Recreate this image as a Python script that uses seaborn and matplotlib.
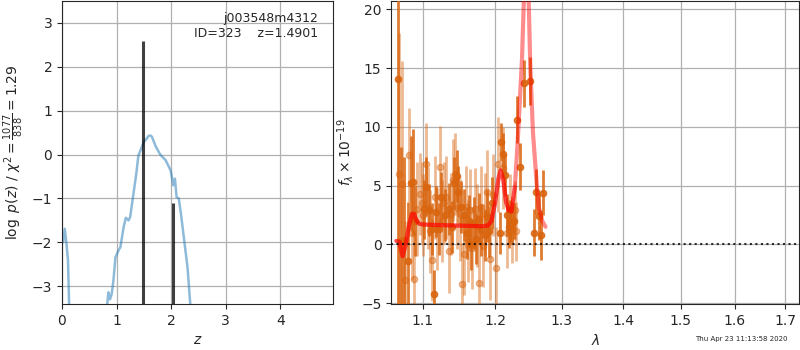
import numpy as np
import pandas as pd
import matplotlib
matplotlib.use("Agg")
import matplotlib.pyplot as plt
from matplotlib.ticker import FixedLocator, FixedFormatter, NullLocator, NullFormatter
import seaborn as sns

# ---------------- data ----------------
# p(z) curve (log p), values below the axis limit are clipped
pz_z = [0.0, 0.02, 0.05, 0.08, 0.11, 0.13, 0.16, 0.4, 0.7, 0.81, 0.83, 0.85, 0.88, 0.91, 0.94, 0.98,
        1.03, 1.07, 1.13, 1.17, 1.22, 1.25, 1.31, 1.36, 1.40, 1.44, 1.50, 1.55, 1.59, 1.63, 1.65,
        1.72, 1.80, 1.90, 1.99, 2.02, 2.04, 2.07, 2.10, 2.14, 2.18, 2.24, 2.30, 2.35, 2.45, 2.8]
pz_logp = [-1.9, -2.0, -1.69, -2.0, -2.42, -3.4, -4.2, -8.0, -6.0, -3.8, -3.4, -3.14, -3.3, -3.18, -2.9, -2.34,
           -2.2, -2.11, -1.65, -1.44, -1.5, -1.42, -0.89, -0.45, -0.02, 0.1, 0.29, 0.36, 0.43, 0.43, 0.40,
           0.18, 0.0, -0.13, -0.36, -0.55, -0.70, -0.55, -0.97, -1.0, -1.35, -1.96, -2.57, -3.4, -4.5, -8.0]
zpeaks = [1.49, 2.035]
zpeak_h = [2.6, -1.1]

# spectrum, beam A (dark)
a_wave = [1.068, 1.072, 1.076, 1.081, 1.085, 1.087, 1.090, 1.102, 1.105, 1.108, 1.112, 1.115, 1.118,
          1.122, 1.125, 1.130, 1.135, 1.140, 1.143, 1.146, 1.148, 1.152, 1.156, 1.160, 1.163, 1.166,
          1.170, 1.173, 1.177, 1.180, 1.185, 1.188, 1.192, 1.196, 1.2075, 1.2087, 1.211, 1.215, 1.218,
          1.220, 1.222, 1.225, 1.228, 1.232, 1.236, 1.243, 1.252, 1.2575, 1.2605, 1.2645, 1.268, 1.2715]
a_flux = [14.1, 0.3, 0.4, -1.4, 5.2, 5.3, 2.0, 3.0, 4.9, 2.9, 1.3, -4.2, 2.8,
          1.3, 4.0, 2.5, 3.0, 1.5, 5.2, 5.8, 4.5, 3.2, 2.5, 1.0, 2.0, 0.0,
          1.8, 0.5, 2.2, 1.2, 0.8, 2.4, 1.1, 3.5, 1.0, 8.7, 7.7, 5.9, 2.5,
          1.5, 2.0, 1.8, 2.0, 10.6, 6.6, 13.7, 13.9, 1.0, 4.5, 2.4, 0.8, 4.4]
a_err = [22, 8, 7, 5, 4, 4.5, 3, 2.5, 2.5, 2.2, 2.2, 2.0, 2.2,
         2.2, 2.2, 2.2, 2.2, 2.2, 2.2, 2.2, 2.2, 2.2, 2.2, 2.2, 2.2, 2.2,
         2.2, 2.2, 2.2, 2.2, 2.2, 2.2, 2.2, 2.2, 1.8, 1.6, 1.8, 1.8, 1.8,
         1.8, 1.8, 1.8, 1.5, 2.0, 2.0, 2.0, 2.0, 2.0, 1.9, 2.0, 2.1, 1.9]

# spectrum, beam B (light)
b_wave = [1.070, 1.073, 1.077, 1.082, 1.086, 1.089, 1.093, 1.097, 1.099, 1.101, 1.104, 1.107, 1.110,
          1.113, 1.116, 1.119, 1.123, 1.126, 1.129, 1.132, 1.135, 1.138, 1.141, 1.144, 1.147, 1.150,
          1.153, 1.156, 1.159, 1.162, 1.165, 1.168, 1.171, 1.174, 1.177, 1.180, 1.183, 1.186, 1.189,
          1.193, 1.197, 1.201, 1.205, 1.212, 1.218, 1.222, 1.225, 1.229, 1.231]
b_flux = [6.0, 5.1, -3.0, 7.6, 1.0, -2.9, 3.0, 4.3, 3.5, 2.5, 6.8, 3.1, 1.1,
          -1.3, 4.0, 1.3, 6.6, 2.0, 3.5, 4.0, -0.6, 2.6, 5.5, 6.0, 3.1, 2.1,
          -3.4, -0.8, 3.2, 0.3, 2.9, -0.3, 3.0, 1.6, -3.3, 3.2, -0.1, 2.6, 4.5,
          -1.2, 4.2, -2.0, 6.8, 6.5, 1.0, 3.0, 1.2, 2.9, 1.1]
b_err = [12, 10.5, 5, 4, 4, 4, 4, 3.5, 3.5, 3.5, 3.5, 3.5, 3.5,
         3.5, 3.5, 3.5, 3.5, 3.5, 3.5, 3.5, 3.5, 3.5, 3.5, 3.5, 3.5, 3.5,
         3.5, 3.5, 3.5, 3.5, 3.5, 3.5, 3.5, 3.5, 3.5, 3.5, 3.5, 3.5, 3.5,
         3.5, 3.5, 3.5, 4.0, 3.5, 3.0, 3.0, 2.8, 2.5, 2.5]

# model
m_wave = [1.066, 1.070, 1.074, 1.078, 1.082, 1.086, 1.089, 1.092, 1.096, 1.100, 1.120, 1.150, 1.180,
          1.190, 1.195, 1.200, 1.205, 1.208, 1.212, 1.216, 1.220, 1.224, 1.229, 1.233, 1.2395, 1.243,
          1.246, 1.249, 1.252, 1.256, 1.2605, 1.2645, 1.270, 1.275]
m_flux = [0.3, 0.2, -1.0, 0.0, 1.5, 2.6, 2.6, 2.0, 1.75, 1.7, 1.65, 1.6, 1.55,
          1.6, 2.0, 3.5, 5.6, 6.3, 5.5, 3.6, 2.9, 2.8, 4.9, 8.6, 15.7, 22.0,
          25.0, 22.0, 15.0, 9.5, 6.0, 3.2, 2.0, 1.5]

# ---------------- plot ----------------
sns.set_style("ticks")
plt.rcParams['font.family'] = ['DejaVu Sans']

fig = plt.figure(figsize=(8, 3.5), dpi=100)
ax1 = fig.add_axes([0.0775, 0.131, 0.339, 0.866])
ax2 = fig.add_axes([0.489, 0.131, 0.51, 0.866])

df_pz = pd.DataFrame({"z": pz_z, "logp": pz_logp})
sns.lineplot(data=df_pz, x="z", y="logp", ax=ax1, sort=False, color="#1f77b4",
             alpha=0.5, linewidth=1.8)
ax1.vlines(zpeaks, -10, zpeak_h, color="black", alpha=0.75, linewidth=2.2)
ax1.set_xlim(0, 4.97)
ax1.set_ylim(-3.41, 3.5)
ax1.set_xticks([0, 1, 2, 3, 4])
ax1.set_yticks([-3, -2, -1, 0, 1, 2, 3])
ax1.grid(True, color="#b0b0b0", linewidth=0.9)
ax1.set_xlabel(r"$z$")
ax1.set_ylabel(r"$\log\ p(z)$ / $\chi^2=\frac{1077}{838}=1.29$")
ax1.text(0.945, 0.965, "j003548m4312\nID=323    z=1.4901", transform=ax1.transAxes,
         ha="right", va="top", fontsize=9)

col = "#d9650f"
ax2.errorbar(b_wave, b_flux, yerr=b_err, fmt="o", color=col, alpha=0.45,
             markersize=4.5, elinewidth=2.0, capsize=0, zorder=2)
ax2.errorbar(a_wave, a_flux, yerr=a_err, fmt="o", color=col, alpha=0.85,
             markersize=4.5, elinewidth=2.0, capsize=0, zorder=3)
df_m = pd.DataFrame({"wave": m_wave, "flux": m_flux})
sns.lineplot(data=df_m, x="wave", y="flux", ax=ax2, color="red", alpha=0.45,
             linewidth=3, zorder=4)
df_m2 = df_m[df_m["wave"] <= 1.232]
sns.lineplot(data=df_m2, x="wave", y="flux", ax=ax2, color="red", alpha=0.45,
             linewidth=3, zorder=4)
ax2.axhline(0, color="black", linestyle=":", linewidth=1.5, alpha=0.8, zorder=5)
ax2.set_xscale("log")
ax2.set_xlim(1.0594, 1.729)
ax2.set_ylim(-5.08, 20.7)
ticks = [1.1, 1.2, 1.3, 1.4, 1.5, 1.6, 1.7]
ax2.xaxis.set_major_locator(FixedLocator(ticks))
ax2.xaxis.set_major_formatter(FixedFormatter([f"{t:.1f}" for t in ticks]))
ax2.xaxis.set_minor_locator(NullLocator())
ax2.xaxis.set_minor_formatter(NullFormatter())
ax2.set_yticks([-5, 0, 5, 10, 15, 20])
ax2.grid(True, color="#b0b0b0", linewidth=0.9)
ax2.set_xlabel(r"$\lambda$")
ax2.set_ylabel(r"$f_\lambda\times10^{-19}$")

fig.text(0.984, 0.022, "Thu Apr 23 11:13:58 2020", ha="right", va="bottom", fontsize=5)

fig.savefig("out.png", dpi=100)
